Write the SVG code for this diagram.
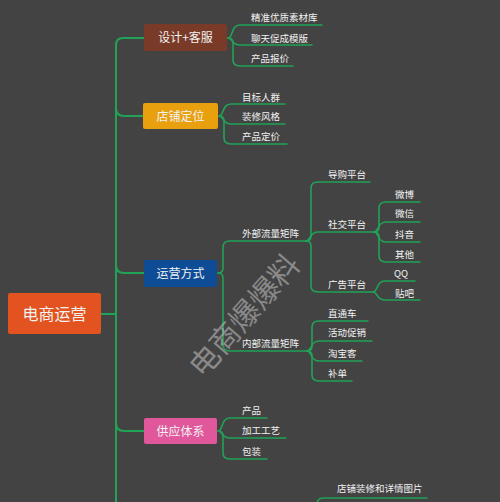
<svg xmlns="http://www.w3.org/2000/svg" width="500" height="502" viewBox="0 0 500 502">
<style>
text{font-family:"Noto Sans CJK SC","Noto Sans",sans-serif;fill:#f2f2f2}
.t2{font-size:9.5px}
.t1{font-size:12px;text-anchor:middle}
.t0{font-size:16px;text-anchor:middle}
.c{fill:none;stroke:#22a257;stroke-width:1.6;stroke-linecap:round;stroke-linejoin:round}
.m{stroke-width:2}
</style>
<rect width="500" height="502" fill="#434343"/>
<g id="connectors">
<path class="c m" d="M101,314 H116"/>
<path class="c m" d="M144,38 H123 Q116,38 116,45 V502"/>
<path class="c m" d="M116,108 Q116,116 124,116 H143"/>
<path class="c m" d="M116,265 Q116,273 124,273 H144"/>
<path class="c m" d="M116,423 Q116,431 124,431 H144"/>
<path class="c" d="M228,38 C233,38 231,25 240,25 H322"/>
<path class="c" d="M228,38 C233,38 231,45 240,45 H312"/>
<path class="c" d="M228,38 Q233,38 233,43 V60 Q233,66 240,66 H293"/>
<path class="c" d="M219,116 C224,116 222,104 231,104 H285"/>
<path class="c" d="M219,116 C224,116 222,124 231,124 H285"/>
<path class="c" d="M219,116 Q224,116 224,121 V138 Q224,144 231,144 H287"/>
<path class="c" d="M218,273 Q223,273 223,268 V247 Q223,241 230,241 H306"/>
<path class="c" d="M218,273 Q223,273 223,278 V345 Q223,351 230,351 H307"/>
<path class="c" d="M306,241 Q311,241 311,236 V188 Q311,182 318,182 H370"/>
<path class="c" d="M306,241 C311,241 309,232 318,232 H374"/>
<path class="c" d="M306,241 Q311,241 311,246 V286 Q311,292 318,292 H373"/>
<path class="c" d="M374,232 Q379,232 379,227 V208 Q379,202 386,202 H420"/>
<path class="c" d="M374,232 C379,232 377,222 386,222 H420"/>
<path class="c" d="M374,232 C379,232 377,242 386,242 H420"/>
<path class="c" d="M374,232 Q379,232 379,237 V256 Q379,262 386,262 H420"/>
<path class="c" d="M373,292 C378,292 376,281 385,281 H415"/>
<path class="c" d="M373,292 C378,292 376,300 385,300 H420"/>
<path class="c" d="M307,351 Q312,351 312,346 V327 Q312,321 319,321 H368"/>
<path class="c" d="M307,351 C312,351 310,341 319,341 H372"/>
<path class="c" d="M307,351 C312,351 310,361 319,361 H362"/>
<path class="c" d="M307,351 Q312,351 312,356 V375 Q312,381 319,381 H352"/>
<path class="c" d="M218,431 C223,431 221,418 230,418 H267"/>
<path class="c" d="M218,431 C223,431 221,438 230,438 H286"/>
<path class="c" d="M218,431 Q223,431 223,436 V453 Q223,459 230,459 H267"/>
<path class="c" d="M317,512 V504 Q317,498 324,498 H427"/>
</g>
<g id="root"><rect x="8" y="293" width="93" height="41" rx="2" fill="#e2531f"/><text class="t0" x="54.5" y="319.5">电商运营</text></g>
<g id="n-design"><rect x="144" y="24" width="83" height="27" rx="2" fill="#7a3a28"/><text class="t1" x="185.5" y="42">设计+客服</text></g>
<g id="n-shop"><rect x="143" y="103" width="75" height="26" rx="2" fill="#e9a00e"/><text class="t1" x="180.5" y="120.5">店铺定位</text></g>
<g id="n-ops"><rect x="144" y="260" width="73" height="27" rx="2" fill="#0f4c96"/><text class="t1" x="180.5" y="277.5">运营方式</text></g>
<g id="n-supply"><rect x="144" y="418" width="73" height="26" rx="2" fill="#e0579b"/><text class="t1" x="180.5" y="435.5">供应体系</text></g>
<g id="leaves">
<text class="t2" x="251" y="20.5">精准优质素材库</text>
<text class="t2" x="251" y="41.5">聊天促成模版</text>
<text class="t2" x="251" y="61.5">产品报价</text>
<text class="t2" x="242" y="100.5">目标人群</text>
<text class="t2" x="242" y="119.5">装修风格</text>
<text class="t2" x="242" y="139.5">产品定价</text>
<text class="t2" x="242" y="236.5">外部流量矩阵</text>
<text class="t2" x="242" y="346.5">内部流量矩阵</text>
<text class="t2" x="328" y="177.5">导购平台</text>
<text class="t2" x="328" y="227.5">社交平台</text>
<text class="t2" x="328" y="287.5">广告平台</text>
<text class="t2" x="395" y="197.5">微博</text>
<text class="t2" x="395" y="216.5">微信</text>
<text class="t2" x="395" y="237.5">抖音</text>
<text class="t2" x="395" y="257.5">其他</text>
<text class="t2" x="394" y="276.5">QQ</text>
<text class="t2" x="395" y="296.5">贴吧</text>
<text class="t2" x="328" y="316.5">直通车</text>
<text class="t2" x="328" y="335.5">活动促销</text>
<text class="t2" x="328" y="356.5">淘宝客</text>
<text class="t2" x="328" y="376.5">补单</text>
<text class="t2" x="242" y="413.5">产品</text>
<text class="t2" x="242" y="433.5">加工工艺</text>
<text class="t2" x="242" y="454.5">包装</text>
<text class="t2" x="337" y="491.5">店铺装修和详情图片</text>
</g>
<text x="0" y="0" transform="translate(245,316) rotate(-49)" style="font-size:30px;text-anchor:middle;fill:#c8c8c8;fill-opacity:0.55" dy="10">电商爆爆料</text>
</svg>
